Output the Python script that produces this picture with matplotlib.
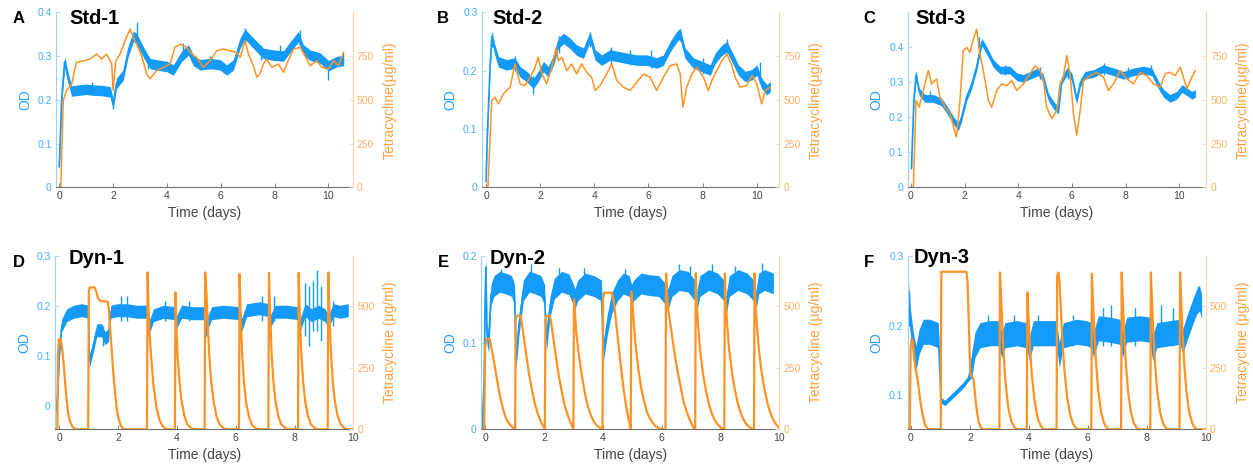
import matplotlib
matplotlib.use("Agg")
import matplotlib.pyplot as plt

plt.rcParams['font.family'] = ['Liberation Sans', 'DejaVu Sans']

BLUE = '#149BFA'
BLUE_AX = '#9ED3FF'
BLUE_TXT = '#45AEFF'
BLUE_LAB = '#259FFF'
ORANGE = '#FF9224'
ORANGE_AX = '#FFD3A8'
ORANGE_TXT = '#FFB066'
ORANGE_LAB = '#FFA040'
GREY = '#6E6E6E'
GREY_TXT = '#444444'

x_ticks = [0, 2, 4, 6, 8, 10]

# ---------------- Panel A : Std-1 ----------------
A_od_t = [0.0, 0.09, 0.2, 0.33, 0.46, 0.7, 1.0, 1.3, 1.6, 1.9, 2.0, 2.13, 2.38, 2.56, 2.75,
          2.87, 3.12, 3.37, 3.6, 4.0, 4.24, 4.55, 4.8, 4.98, 5.23, 5.6, 5.97, 6.22, 6.47,
          6.72, 6.9, 7.2, 7.58, 7.96, 8.33, 8.57, 8.88, 9.07, 9.32, 9.7, 10.0, 10.3, 10.56]
A_od = [0.047, 0.2, 0.287, 0.25, 0.22, 0.222, 0.224, 0.222, 0.221, 0.218, 0.19, 0.238, 0.257,
        0.31, 0.345, 0.34, 0.31, 0.283, 0.28, 0.276, 0.268, 0.30, 0.314, 0.29, 0.28, 0.283,
        0.28, 0.268, 0.28, 0.33, 0.35, 0.33, 0.306, 0.302, 0.30, 0.32, 0.344, 0.314, 0.302,
        0.295, 0.278, 0.287, 0.29]
A_spk_t = [0.2, 1.2, 2.0, 2.87, 3.3, 4.6, 5.6, 6.9, 7.5, 8.2, 8.95, 10.0, 10.55]
A_spk_lo = [0.27, 0.21, 0.18, 0.33, 0.27, 0.29, 0.27, 0.33, 0.29, 0.29, 0.33, 0.245, 0.28]
A_spk_hi = [0.29, 0.24, 0.2, 0.377, 0.3, 0.33, 0.3, 0.365, 0.325, 0.325, 0.36, 0.28, 0.31]
A_tet_t = [0.0, 0.06, 0.15, 0.27, 0.46, 0.64, 0.9, 1.14, 1.39, 1.57, 1.76, 1.95, 2.0, 2.1,
           2.26, 2.44, 2.63, 2.75, 2.87, 3.06, 3.25, 3.37, 3.62, 3.87, 4.11, 4.3, 4.49, 4.73,
           4.92, 5.1, 5.35, 5.6, 5.85, 6.1, 6.34, 6.6, 6.72, 6.9, 7.03, 7.21, 7.34, 7.46,
           7.58, 7.7, 7.9, 8.14, 8.33, 8.5, 8.7, 8.95, 9.13, 9.32, 9.57, 9.75, 10.0, 10.19,
           10.37, 10.56]
A_tet = [0, 0, 496, 553, 590, 714, 723, 733, 761, 733, 761, 704, 553, 723, 761, 837, 903, 856,
         820, 752, 648, 620, 667, 686, 704, 800, 818, 800, 761, 742, 686, 723, 780, 790, 780,
         771, 742, 837, 761, 695, 629, 648, 704, 733, 686, 704, 657, 723, 790, 800, 752, 695,
         723, 686, 676, 723, 695, 771]

# ---------------- Panel B : Std-2 ----------------
B_od_t = [0.0, 0.05, 0.15, 0.21, 0.33, 0.46, 0.76, 1.07, 1.26, 1.5, 1.75, 1.93, 2.12, 2.3,
          2.49, 2.67, 2.86, 3.1, 3.35, 3.6, 3.84, 4.03, 4.27, 4.58, 4.89, 5.2, 5.57, 5.94,
          6.3, 6.55, 6.8, 7.04, 7.17, 7.35, 7.66, 7.97, 8.28, 8.46, 8.71, 8.9, 9.08, 9.32,
          9.57, 9.82, 10.0, 10.18, 10.37, 10.5]
B_od = [0.01, 0.093, 0.207, 0.258, 0.235, 0.215, 0.21, 0.213, 0.198, 0.19, 0.178, 0.19, 0.207,
        0.198, 0.218, 0.247, 0.255, 0.247, 0.235, 0.23, 0.258, 0.227, 0.218, 0.227, 0.224,
        0.221, 0.218, 0.218, 0.213, 0.218, 0.241, 0.258, 0.264, 0.23, 0.213, 0.207, 0.201,
        0.221, 0.235, 0.241, 0.224, 0.201, 0.19, 0.193, 0.201, 0.178, 0.167, 0.173]
B_spk_t = [0.21, 1.07, 1.75, 2.7, 3.84, 4.6, 5.3, 6.1, 7.17, 8.0, 8.9, 10.1]
B_spk_lo = [0.24, 0.2, 0.16, 0.23, 0.24, 0.21, 0.21, 0.205, 0.25, 0.195, 0.23, 0.18]
B_spk_hi = [0.265, 0.225, 0.19, 0.26, 0.267, 0.24, 0.235, 0.235, 0.272, 0.222, 0.255, 0.215]
B_tet_t = [0.0, 0.07, 0.21, 0.33, 0.46, 0.64, 0.89, 1.07, 1.26, 1.44, 1.63, 1.81, 1.93, 2.06,
           2.24, 2.43, 2.59, 2.67, 2.8, 2.98, 3.16, 3.35, 3.53, 3.72, 3.9, 4.03, 4.21, 4.46,
           4.64, 4.83, 5.07, 5.32, 5.57, 5.81, 6.06, 6.3, 6.55, 6.8, 7.04, 7.17, 7.27, 7.41,
           7.6, 7.78, 8.03, 8.21, 8.34, 8.52, 8.71, 8.9, 9.08, 9.2, 9.38, 9.63, 9.82, 10.0,
           10.18, 10.31, 10.5]
B_tet = [0, 0, 496, 515, 477, 534, 572, 705, 591, 581, 629, 686, 743, 648, 591, 686, 799, 723,
         743, 667, 705, 648, 705, 657, 629, 553, 581, 648, 705, 610, 572, 553, 600, 648, 629,
         553, 629, 695, 705, 648, 458, 572, 648, 686, 629, 553, 610, 667, 723, 761, 695, 629,
         572, 581, 638, 591, 477, 553, 572]

# ---------------- Panel C : Std-3 ----------------
C_od_t = [0.02, 0.11, 0.19, 0.31, 0.52, 0.83, 1.14, 1.39, 1.58, 1.77, 1.89, 2.08, 2.26, 2.45,
          2.64, 2.82, 3.07, 3.32, 3.69, 3.94, 4.19, 4.44, 4.75, 4.94, 5.12, 5.31, 5.5, 5.62,
          5.81, 6.0, 6.18, 6.31, 6.49, 6.8, 7.18, 7.55, 7.92, 8.3, 8.67, 8.98, 9.23, 9.42,
          9.66, 9.91, 10.1, 10.29, 10.47, 10.6]
C_od = [0.054, 0.249, 0.32, 0.273, 0.254, 0.254, 0.244, 0.216, 0.192, 0.173, 0.2, 0.258,
        0.292, 0.344, 0.415, 0.392, 0.354, 0.335, 0.335, 0.316, 0.311, 0.32, 0.33, 0.311,
        0.259, 0.235, 0.22, 0.306, 0.33, 0.316, 0.249, 0.297, 0.32, 0.325, 0.339, 0.33, 0.32,
        0.33, 0.335, 0.33, 0.292, 0.268, 0.254, 0.263, 0.282, 0.273, 0.263, 0.268]
C_spk_t = [0.19, 0.7, 2.55, 3.5, 4.8, 5.85, 7.2, 8.1, 8.95]
C_spk_lo = [0.3, 0.245, 0.4, 0.32, 0.31, 0.31, 0.32, 0.31, 0.32]
C_spk_hi = [0.33, 0.275, 0.43, 0.35, 0.345, 0.345, 0.355, 0.345, 0.35]
C_tet_t = [0.0, 0.09, 0.19, 0.31, 0.46, 0.65, 0.77, 0.96, 1.08, 1.27, 1.46, 1.64, 1.7, 1.83,
           1.95, 2.08, 2.2, 2.33, 2.45, 2.57, 2.7, 2.89, 3.01, 3.2, 3.38, 3.57, 3.76, 3.94,
           4.19, 4.44, 4.63, 4.81, 4.94, 5.06, 5.25, 5.44, 5.56, 5.68, 5.81, 5.93, 6.06, 6.18,
           6.31, 6.43, 6.68, 6.93, 7.18, 7.36, 7.55, 7.8, 8.05, 8.3, 8.54, 8.79, 9.04, 9.29,
           9.48, 9.66, 9.85, 10.04, 10.16, 10.29, 10.41, 10.6]
C_tet = [0, 0, 496, 458, 553, 667, 591, 619, 515, 458, 420, 316, 288, 496, 780, 799, 771, 847,
         903, 761, 667, 496, 458, 553, 591, 581, 610, 553, 591, 648, 695, 667, 610, 458, 392,
         439, 591, 629, 752, 648, 420, 297, 439, 610, 638, 657, 629, 553, 591, 667, 619, 591,
         657, 638, 591, 572, 648, 657, 638, 686, 629, 562, 610, 667]

# ---------------- Panel D : Dyn-1 ----------------
D_od_t = [-0.15, -0.07, 0.0, 0.08, 0.25, 0.48, 0.76, 0.99, 1.02, 1.16, 1.27, 1.44, 1.55, 1.67,
          1.75, 1.95, 2.29, 2.63, 2.97, 3.08, 3.2, 3.54, 3.93, 3.99, 4.16, 4.56, 4.95, 5.01,
          5.18, 5.58, 6.15, 6.2, 6.37, 6.83, 7.11, 7.17, 7.34, 7.73, 8.13, 8.19, 8.36, 8.58,
          8.81, 9.04, 9.15, 9.32, 9.55, 9.83]
D_od = [-0.005, 0.008, 0.108, 0.161, 0.181, 0.188, 0.191, 0.188, 0.089, 0.121, 0.151, 0.151,
        0.135, 0.141, 0.188, 0.191, 0.191, 0.188, 0.188, 0.161, 0.181, 0.188, 0.185, 0.168,
        0.188, 0.185, 0.185, 0.161, 0.185, 0.188, 0.185, 0.161, 0.191, 0.195, 0.191, 0.168,
        0.188, 0.188, 0.185, 0.161, 0.191, 0.181, 0.188, 0.181, 0.168, 0.191, 0.188, 0.191]
D_spk_t = [1.3, 1.5, 2.1, 2.3, 3.6, 4.4, 5.0, 6.9, 7.3, 8.35, 8.5, 8.62, 8.75, 8.9, 9.3]
D_spk_lo = [0.14, 0.12, 0.17, 0.17, 0.17, 0.17, 0.14, 0.17, 0.17, 0.14, 0.12, 0.15, 0.15, 0.13, 0.16]
D_spk_hi = [0.16, 0.16, 0.22, 0.22, 0.21, 0.21, 0.23, 0.22, 0.22, 0.245, 0.24, 0.25, 0.272, 0.24, 0.21]
D_tet_t = [-0.15, -0.07, -0.05, -0.02, 0.05, 0.1, 0.15, 0.2, 0.25, 0.3, 0.36, 0.45, 0.55,
           0.98, 1.0, 1.03, 1.2, 1.25, 1.32, 1.4, 1.64, 1.68, 1.72, 1.78, 1.84, 1.9, 1.95, 2.02, 2.1, 2.2,
           2.98, 3.0, 3.03, 3.06, 3.1, 3.15, 3.2, 3.3, 3.4, 3.5, 3.6, 3.7,
           3.93, 3.95, 3.98, 4.02, 4.08, 4.15, 4.25, 4.35, 4.5, 4.6,
           4.94, 4.96, 5.0, 5.05, 5.1, 5.16, 5.25, 5.35, 5.45, 5.6, 5.7,
           6.11, 6.13, 6.17, 6.22, 6.28, 6.35, 6.45, 6.55, 6.7, 6.8,
           7.11, 7.13, 7.17, 7.22, 7.28, 7.35, 7.45, 7.55, 7.7, 7.8,
           8.12, 8.14, 8.18, 8.23, 8.29, 8.36, 8.46, 8.56, 8.7, 8.8,
           9.13, 9.15, 9.19, 9.24, 9.3, 9.37, 9.47, 9.57, 9.72, 9.82, 10.0]
D_tet = [0, 0, 300, 365, 365, 320, 260, 180, 115, 65, 31, 10, 0,
         0, 560, 575, 575, 560, 530, 520, 518, 490, 420, 320, 220, 140, 85, 40, 12, 0,
         0, 636, 500, 400, 330, 250, 180, 90, 40, 15, 3, 0,
         0, 555, 420, 300, 200, 120, 55, 20, 3, 0,
         0, 636, 560, 420, 300, 200, 110, 50, 20, 3, 0,
         0, 630, 450, 300, 190, 110, 50, 18, 3, 0,
         0, 635, 460, 310, 195, 115, 52, 20, 3, 0,
         0, 635, 460, 310, 195, 115, 52, 20, 3, 0,
         0, 636, 460, 310, 195, 115, 52, 20, 3, 0, 0]

# ---------------- Panel E : Dyn-2 ----------------
E_od_t = [-0.1, -0.03, 0.0, 0.03, 0.06, 0.12, 0.2, 0.3, 0.5, 0.7, 0.9, 1.0, 1.05, 1.15, 1.3,
          1.5, 1.7, 1.9, 2.02, 2.08, 2.2, 2.35, 2.6, 2.85, 3.0, 3.05, 3.15, 3.4, 3.7, 3.95,
          4.02, 4.15, 4.3, 4.5, 4.7, 4.9, 4.98, 5.05, 5.3, 5.6, 5.9, 6.15, 6.22, 6.35, 6.6,
          6.9, 7.12, 7.18, 7.3, 7.6, 7.9, 8.12, 8.18, 8.3, 8.6, 8.9, 9.13, 9.19, 9.3, 9.5, 9.8]
E_od = [0.0, 0.06, 0.15, 0.187, 0.11, 0.1, 0.155, 0.165, 0.17, 0.168, 0.165, 0.155, 0.08,
        0.12, 0.16, 0.17, 0.168, 0.165, 0.155, 0.1, 0.14, 0.162, 0.17, 0.167, 0.155, 0.15,
        0.16, 0.168, 0.165, 0.16, 0.09, 0.12, 0.145, 0.16, 0.168, 0.165, 0.155, 0.16, 0.168,
        0.166, 0.165, 0.155, 0.15, 0.165, 0.172, 0.17, 0.16, 0.145, 0.165, 0.172, 0.168, 0.16,
        0.14, 0.165, 0.172, 0.168, 0.16, 0.145, 0.168, 0.172, 0.168]
E_spk_t = [0.55, 1.55, 2.5, 3.35, 4.75, 6.6, 6.95, 7.7, 8.5, 9.4]
E_spk_lo = [0.16, 0.16, 0.16, 0.16, 0.16, 0.16, 0.16, 0.16, 0.16, 0.16]
E_spk_hi = [0.185, 0.19, 0.186, 0.186, 0.185, 0.19, 0.188, 0.19, 0.188, 0.192]
E_tet_t = [-0.14, -0.03, 0.0, 0.04, 0.15, 0.2, 0.28, 0.35, 0.45, 0.55, 0.65, 0.75, 0.85, 0.95, 1.0,
           1.02, 1.04, 1.07, 1.2, 1.25, 1.32, 1.4, 1.5, 1.6, 1.7, 1.8, 1.9, 2.0, 2.03,
           2.05, 2.08, 2.2, 2.25, 2.32, 2.4, 2.5, 2.6, 2.7, 2.8, 2.9, 2.98, 3.0,
           3.02, 3.05, 3.1, 3.2, 3.3, 3.4, 3.5, 3.6, 3.7, 3.8, 3.9, 3.97,
           3.99, 4.01, 4.05, 4.3, 4.36, 4.42, 4.5, 4.6, 4.7, 4.8, 4.88, 4.94,
           4.95, 4.97, 5.0, 5.05, 5.1, 5.2, 5.3, 5.4, 5.5, 5.6, 5.7, 5.8, 5.95, 6.05,
           6.13, 6.15, 6.18, 6.22, 6.28, 6.35, 6.45, 6.55, 6.65, 6.75, 6.85, 6.95, 7.05, 7.12,
           7.14, 7.16, 7.19, 7.24, 7.3, 7.4, 7.5, 7.6, 7.7, 7.8, 7.9, 8.0, 8.1,
           8.13, 8.15, 8.18, 8.23, 8.29, 8.39, 8.49, 8.59, 8.69, 8.79, 8.89, 8.99, 9.1,
           9.14, 9.16, 9.19, 9.24, 9.3, 9.4, 9.5, 9.6, 9.7, 9.8, 9.9, 10.0]
E_tet = [0, 0, 330, 366, 366, 340, 290, 240, 170, 110, 65, 35, 18, 6, 0,
         0, 440, 461, 461, 430, 370, 300, 220, 155, 100, 60, 30, 8, 0,
         440, 461, 461, 430, 370, 300, 220, 155, 100, 60, 28, 8, 0,
         528, 480, 390, 290, 210, 140, 90, 55, 30, 15, 6, 0,
         0, 530, 554, 554, 530, 470, 380, 270, 170, 90, 40, 10,
         0, 558, 520, 440, 360, 250, 170, 115, 70, 45, 25, 12, 3, 0,
         0, 632, 560, 490, 440, 380, 300, 230, 170, 110, 72, 40, 15, 0,
         0, 632, 520, 420, 330, 230, 160, 105, 65, 38, 20, 8, 0,
         0, 632, 520, 420, 330, 230, 160, 105, 65, 38, 20, 8, 0,
         0, 632, 520, 420, 330, 230, 160, 105, 65, 38, 18, 6]

# ---------------- Panel F : Dyn-3 ----------------
F_od_t = [-0.07, -0.03, 0.08, 0.17, 0.28, 0.42, 0.64, 0.93, 1.02, 1.15, 1.32, 1.55, 1.78,
          1.95, 2.06, 2.17, 2.34, 2.68, 2.96, 3.08, 3.19, 3.59, 3.93, 4.02, 4.15, 4.6, 4.94,
          5.03, 5.17, 5.62, 5.96, 6.13, 6.19, 6.36, 6.75, 7.09, 7.18, 7.32, 7.77, 8.11, 8.2,
          8.34, 8.79, 9.13, 9.22, 9.36, 9.52, 9.69, 9.79, 9.86]
F_od = [0.246, 0.21, 0.172, 0.153, 0.177, 0.191, 0.191, 0.186, 0.093, 0.089, 0.096, 0.105,
        0.115, 0.124, 0.143, 0.172, 0.186, 0.189, 0.189, 0.172, 0.186, 0.189, 0.186, 0.167,
        0.189, 0.189, 0.189, 0.158, 0.186, 0.191, 0.189, 0.186, 0.172, 0.196, 0.194, 0.191,
        0.172, 0.194, 0.196, 0.194, 0.167, 0.186, 0.189, 0.191, 0.177, 0.196, 0.215, 0.234,
        0.239, 0.227]
F_quiet = (0.98, 2.02)      # interval where the OD trace is a thin curve
F_spk_t = [-0.06, 2.6, 3.5, 4.3, 5.5, 6.5, 6.8, 7.6, 8.5, 8.9, 9.75]
F_spk_lo = [0.2, 0.17, 0.17, 0.17, 0.17, 0.17, 0.17, 0.17, 0.17, 0.17, 0.22]
F_spk_hi = [0.25, 0.215, 0.215, 0.215, 0.215, 0.225, 0.23, 0.225, 0.23, 0.225, 0.256]
F_tet_t = [-0.11, -0.04, -0.01, 0.02, 0.06, 0.1, 0.15, 0.2, 0.25, 0.3, 0.36, 0.42, 0.48, 0.55, 0.62,
           1.01, 1.03, 1.88, 1.92, 1.95, 1.98, 2.01, 2.05, 2.12, 2.16, 2.2, 2.25, 2.3, 2.36, 2.42,
           3.0, 3.02, 3.05, 3.1, 3.15, 3.2, 3.3, 3.4, 3.5, 3.6,
           3.93, 3.95, 3.98, 4.03, 4.1, 4.2, 4.3, 4.4, 4.5,
           4.94, 4.96, 5.0, 5.04, 5.08, 5.13, 5.2, 5.3, 5.4, 5.5, 5.6, 5.7,
           6.12, 6.14, 6.17, 6.22, 6.28, 6.35, 6.45, 6.55, 6.65, 6.72,
           7.13, 7.15, 7.18, 7.23, 7.29, 7.36, 7.46, 7.56, 7.66, 7.73,
           8.12, 8.14, 8.17, 8.22, 8.28, 8.35, 8.45, 8.55, 8.65, 8.72,
           9.11, 9.13, 9.16, 9.21, 9.27, 9.34, 9.44, 9.54, 9.64, 9.71, 10.0]
F_tet = [0, 0, 330, 365, 360, 300, 250, 220, 180, 130, 85, 45, 18, 5, 0,
         0, 639, 639, 600, 480, 360, 240, 215, 205, 160, 110, 65, 30, 10, 0,
         0, 636, 560, 420, 300, 200, 90, 35, 10, 0,
         0, 555, 480, 350, 220, 110, 45, 15, 0,
         0, 620, 636, 600, 500, 380, 250, 130, 60, 22, 5, 0,
         0, 630, 540, 400, 270, 160, 70, 25, 5, 0,
         0, 636, 540, 400, 270, 160, 70, 25, 5, 0,
         0, 636, 540, 400, 270, 160, 70, 25, 5, 0,
         0, 636, 540, 400, 270, 160, 70, 25, 5, 0, 0]

TOP_RIGHT = 'Tetracycline(μg/ml)'
BOT_RIGHT = 'Tetracycline (μg/ml)'

panels = [
    dict(letter='A', title='Std-1', rect=[56, 12.3, 352.7, 187.3], xlim=(-0.12, 10.9),
         od_t=A_od_t, od=A_od, band=0.012, quiet=None, st=A_spk_t, slo=A_spk_lo, shi=A_spk_hi,
         tt=A_tet_t, tv=A_tet, ylim=(0, 0.4), yt=[0, 0.1, 0.2, 0.3, 0.4], rlim=(0, 1000),
         rt=[0, 250, 500, 750], rlab=TOP_RIGHT, tlw=1.1, lpos=(13, 23.3), tx=0.044, ty=0.933),
    dict(letter='B', title='Std-2', rect=[481.7, 12.3, 779, 187.3], xlim=(-0.16, 10.82),
         od_t=B_od_t, od=B_od, band=0.009, quiet=None, st=B_spk_t, slo=B_spk_lo, shi=B_spk_hi,
         tt=B_tet_t, tv=B_tet, ylim=(0, 0.3), yt=[0, 0.1, 0.2, 0.3], rlim=(0, 1000),
         rt=[0, 250, 500, 750], rlab=TOP_RIGHT, tlw=1.1, lpos=(437, 23.3), tx=0.035, ty=0.933),
    dict(letter='C', title='Std-3', rect=[907.7, 12.3, 1206, 187.3], xlim=(-0.12, 11.0),
         od_t=C_od_t, od=C_od, band=0.011, quiet=None, st=C_spk_t, slo=C_spk_lo, shi=C_spk_hi,
         tt=C_tet_t, tv=C_tet, ylim=(0, 0.5), yt=[0, 0.1, 0.2, 0.3, 0.4], rlim=(0, 1000),
         rt=[0, 250, 500, 750], rlab=TOP_RIGHT, tlw=1.1, lpos=(863, 23.3), tx=0.025, ty=0.933),
    dict(letter='D', title='Dyn-1', rect=[55, 255.7, 353.3, 429.3], xlim=(-0.15, 10),
         od_t=D_od_t, od=D_od, band=0.013, quiet=None, st=D_spk_t, slo=D_spk_lo, shi=D_spk_hi,
         tt=D_tet_t, tv=D_tet, ylim=(-0.047, 0.3), yt=[0, 0.1, 0.2, 0.3], rlim=(0, 704),
         rt=[0, 250, 500], rlab=BOT_RIGHT, tlw=1.6, lpos=(13, 266.7), tx=0.047, ty=0.955),
    dict(letter='E', title='Dyn-2', rect=[481, 255.7, 779.3, 429.3], xlim=(-0.14, 10),
         od_t=E_od_t, od=E_od, band=0.012, quiet=None, st=E_spk_t, slo=E_spk_lo, shi=E_spk_hi,
         tt=E_tet_t, tv=E_tet, ylim=(0, 0.2), yt=[0, 0.1, 0.2], rlim=(0, 704),
         rt=[0, 250, 500], rlab=BOT_RIGHT, tlw=1.6, lpos=(438, 266.7), tx=0.03, ty=0.955),
    dict(letter='F', title='Dyn-3', rect=[907.7, 255.7, 1205.7, 429.3], xlim=(-0.11, 10),
         od_t=F_od_t, od=F_od, band=0.018, quiet=F_quiet, st=F_spk_t, slo=F_spk_lo, shi=F_spk_hi,
         tt=F_tet_t, tv=F_tet, ylim=(0.0513, 0.3), yt=[0.1, 0.2, 0.3], rlim=(0, 704),
         rt=[0, 250, 500], rlab=BOT_RIGHT, tlw=1.6, lpos=(864, 266.7), tx=0.02, ty=0.96),
]

W, H = 1253, 469
fig = plt.figure(figsize=(W / 100, H / 100), dpi=100)


def fmt(v):
    return '0' if v == 0 else ('%g' % v)


for p in panels:
    x0, y0, x1, y1 = p['rect']
    ax = fig.add_axes([x0 / W, (H - y1) / H, (x1 - x0) / W, (y1 - y0) / H])
    ax.patch.set_alpha(0)
    halves = []
    for t in p['od_t']:
        q = p['quiet']
        if q is not None and q[0] <= t <= q[1]:
            halves.append(0.004)
        else:
            halves.append(p['band'])
    lo = [v - h for v, h in zip(p['od'], halves)]
    hi = [v + h for v, h in zip(p['od'], halves)]
    ax.fill_between(p['od_t'], lo, hi, color=BLUE, lw=0, zorder=2)
    ax.plot(p['od_t'], p['od'], color=BLUE, lw=1.2, zorder=2)
    ax.vlines(p['st'], p['slo'], p['shi'], color=BLUE, lw=1.0, zorder=2)
    ax.set_xlim(*p['xlim'])
    ax.set_ylim(*p['ylim'])
    ax.set_yticks(p['yt'])
    ax.set_yticklabels([fmt(v) for v in p['yt']])
    ax.set_xticks(x_ticks)
    ax.set_xticklabels([str(v) for v in x_ticks])
    for s in ['top', 'right']:
        ax.spines[s].set_visible(False)
    ax.spines['left'].set_color(BLUE_AX)
    ax.spines['bottom'].set_color(GREY)
    ax.spines['left'].set_linewidth(0.8)
    ax.spines['bottom'].set_linewidth(0.8)
    ax.tick_params(axis='y', direction='in', length=3, width=0.6, color=BLUE_AX,
                   labelcolor=BLUE_TXT, labelsize=7.5, pad=3)
    ax.tick_params(axis='x', direction='in', length=3, width=0.6, color=GREY,
                   labelcolor=GREY_TXT, labelsize=7.5, pad=3)
    ax.set_xlabel('Time (days)', fontsize=10, color=GREY_TXT, labelpad=3)
    ax.set_ylabel('OD', fontsize=10, color=BLUE_LAB)
    ax.yaxis.set_label_coords(-24 / (x1 - x0), 0.5)

    ax2 = ax.twinx()
    ax2.plot(p['tt'], p['tv'], color=ORANGE, lw=p['tlw'], zorder=3)
    ax2.set_ylim(*p['rlim'])
    ax2.set_yticks(p['rt'])
    ax2.set_yticklabels([fmt(v) for v in p['rt']])
    for s in ['top', 'left', 'bottom']:
        ax2.spines[s].set_visible(False)
    ax2.spines['right'].set_color(ORANGE_AX)
    ax2.spines['right'].set_linewidth(0.8)
    ax2.tick_params(axis='y', direction='in', length=3, width=0.6, color=ORANGE_AX,
                    labelcolor=ORANGE_TXT, labelsize=7.5, pad=3)
    ax2.set_ylabel(p['rlab'], fontsize=10, color=ORANGE_LAB)
    ax2.yaxis.set_label_coords(1 + 30 / (x1 - x0), 0.5)

    ax.text(p['tx'], p['ty'], p['title'], transform=ax.transAxes, fontsize=14.5,
            fontweight='bold', color='black', ha='left', va='baseline', zorder=10)
    lx, ly = p['lpos']
    fig.text(lx / W, (H - ly) / H, p['letter'], fontsize=12, fontweight='bold',
             color='black', ha='left', va='baseline')

fig.savefig('out.png', dpi=100)
